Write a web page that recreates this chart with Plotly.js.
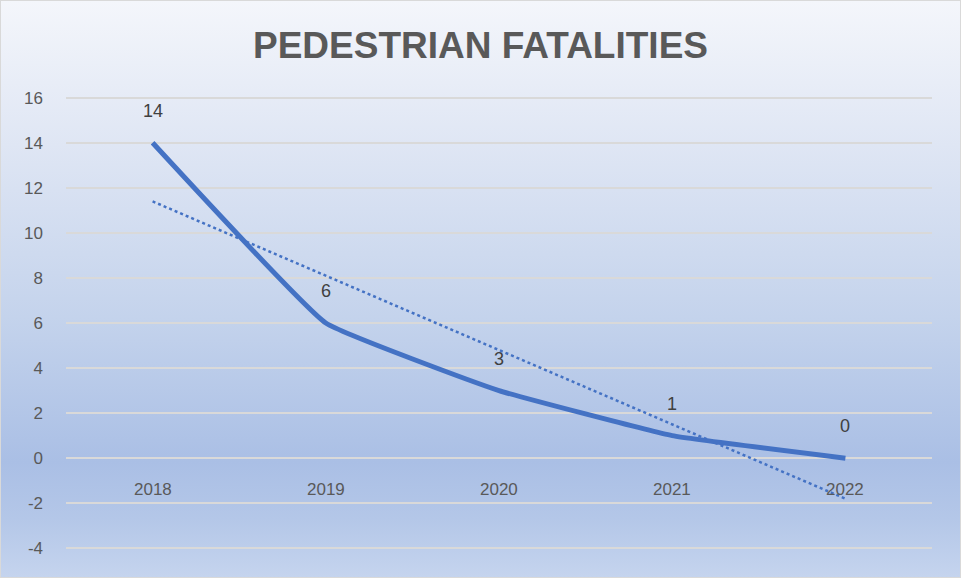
<!DOCTYPE html>
<html>
<head>
<meta charset="utf-8">
<script src="https://cdn.plot.ly/plotly-3.0.1.min.js"></script>
<style>
  html, body { margin: 0; padding: 0; }
  #wrap {
    width: 959px; height: 576px; border: 1px solid #d9d9d9;
    background: linear-gradient(to bottom, #f4f6fb 0%, #dfe6f4 25%, #c4d3ec 55%, #aabfe5 80%, #b4c7e8 90%, #c5d4ee 100%);
  }
  #chart { width: 959px; height: 576px; }
</style>
</head>
<body>
<div id="wrap"><div id="chart"></div></div>
<script>
const categories = ['2018', '2019', '2020', '2021', '2022'];
const fatalities = [14, 6, 3, 1, 0];
const trend = [11.4, 8.1, 4.8, 1.5, -1.8];
const yTicks = [-4, -2, 0, 2, 4, 6, 8, 10, 12, 14, 16];

const xIdx = categories.map((c, i) => i);

const traces = [
  {
    x: xIdx, y: trend, mode: 'lines', type: 'scatter',
    line: { color: '#4472c4', width: 2.5, dash: 'dot' },
    hoverinfo: 'skip'
  },
  {
    x: xIdx, y: fatalities, mode: 'lines', type: 'scatter',
    line: { color: '#4472c4', width: 5, shape: 'spline', smoothing: 0.3 },
  }
];

const annotations = [];
fatalities.forEach((v, i) => {
  annotations.push({
    x: i, y: v, xref: 'x', yref: 'y', text: String(v), showarrow: false,
    yshift: 32, font: { family: 'Liberation Sans, Arial, sans-serif', size: 18, color: '#404040' }
  });
});
categories.forEach((c, i) => {
  annotations.push({
    x: i, y: 0, xref: 'x', yref: 'y', text: c, showarrow: false,
    yshift: -31, font: { family: 'Liberation Sans, Arial, sans-serif', size: 17, color: '#595959' }
  });
});

const layout = {
  width: 959, height: 576,
  paper_bgcolor: 'rgba(0,0,0,0)', plot_bgcolor: 'rgba(0,0,0,0)',
  margin: { l: 65, r: 28, t: 90, b: 22 },
  showlegend: false,
  title: {
    text: '<b>PEDESTRIAN FATALITIES</b>',
    x: 0.5, xanchor: 'center', y: 0.924, yanchor: 'middle',
    font: { family: 'Liberation Sans, Arial, sans-serif', size: 37, color: '#595959' }
  },
  xaxis: {
    range: [-0.5, 4.5], showticklabels: false, showgrid: false, zeroline: false,
    showline: false, ticks: ''
  },
  yaxis: {
    range: [-4.3, 16.3], tickvals: yTicks, ticktext: yTicks.map(String),
    showgrid: true, gridcolor: '#d9d9d9', gridwidth: 1.5, zeroline: false,
    showline: false, ticks: '', ticklabelstandoff: 22,
    tickfont: { family: 'Liberation Sans, Arial, sans-serif', size: 17, color: '#595959' }
  },
  annotations: annotations
};

Plotly.newPlot('chart', traces, layout, { displayModeBar: false, staticPlot: true });
</script>
</body>
</html>
